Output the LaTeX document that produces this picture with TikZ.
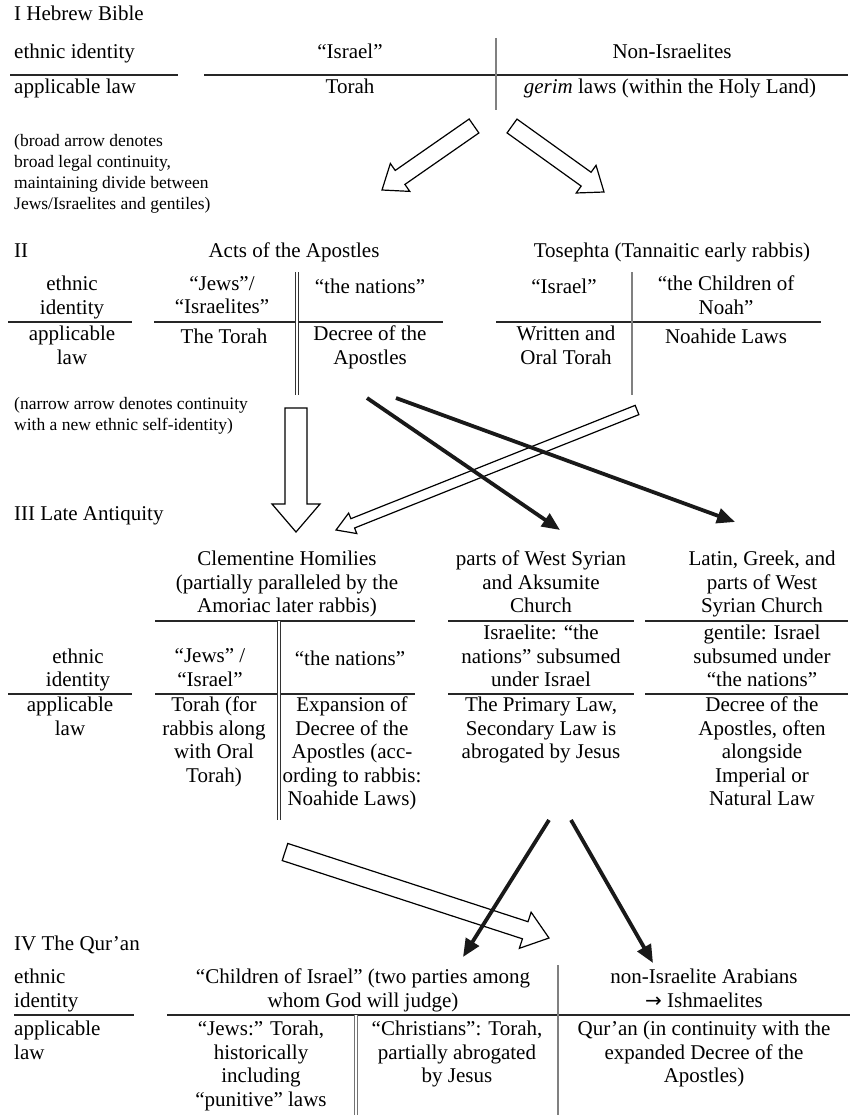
\documentclass[tikz,border=0pt]{standalone}
\usepackage{fontspec}
\setmainfont{Liberation Serif}
\newfontfamily\symfont{DejaVu Sans}
\usetikzlibrary{calc,arrows.meta}
\newcommand\mainsz{\fontsize{21pt}{23.5pt}\selectfont}
\newcommand\notesz{\fontsize{17.5pt}{21pt}\selectfont}
% #1 start, #2 tip, #3 shaft half width, #4 head half width, #5 head length
\newcommand\broadarrow[5]{%
  \coordinate (bahead) at ($(#2)!#5!(#1)$);
  \draw[openarrow] ($(#1)!#3!90:(#2)$) -- ($(bahead)!#3!90:(#2)$) -- ($(bahead)!#4!90:(#2)$) -- (#2)
    -- ($(bahead)!#4!-90:(#2)$) -- ($(bahead)!#3!-90:(#2)$) -- ($(#1)!#3!-90:(#2)$) -- cycle;}
\begin{document}
\begin{tikzpicture}[x=1pt,y=-1pt,
  tx/.style={anchor=north, inner sep=0pt, align=center, yshift=17pt, font=\mainsz,
    execute at begin node={\rule{0pt}{17pt}}},
  txl/.style={tx, anchor=north west, align=left},
  note/.style={txl, font=\notesz},
  hline/.style={line width=1.3pt, draw=black!85},
  gline/.style={line width=2.6pt, draw=black!50},
  dline/.style={double distance=2pt, line width=0.8pt, draw=black!80},
  dgline/.style={double distance=2pt, line width=0.9pt, draw=black!55},
  openarrow/.style={line width=1.2pt, draw=black, fill=white, line join=miter},
  boldarrow/.style={line width=3.8pt, draw=black!90, -{Triangle[length=18pt,width=15pt]}},
]
\fill[white] (0,0) rectangle (852,1115);
\useasboundingbox (0,0) rectangle (852,1115);

% ---------------- I ----------------
\node[txl] (t1) at (14,20) {I Hebrew Bible};
\node[txl] (e1) at (14,58) {ethnic identity};
\node[tx] (i1) at (350,58) {“Israel”};
\node[tx] (n1) at (672,58) {Non-Israelites};
\node[txl] (a1) at (14,93) {applicable law};
\node[tx] (tor1) at (350,93) {Torah};
\node[tx] (g1) at (670,93) {\textit{gerim} laws (within the Holy Land)};
\draw[hline] (10,75) -- (178,75);
\draw[hline] (204,75) -- (848,75);
\draw[gline] (496,38) -- (496,110);

\coordinate (s1a) at (474,126); \coordinate (e1a) at (382,190);
\coordinate (s1b) at (512,126); \coordinate (e1b) at (604,192);
\broadarrow{s1a}{e1a}{8.5pt}{17pt}{22pt}
\broadarrow{s1b}{e1b}{8.5pt}{17pt}{22pt}

\node[note] (nb) at (14,151) {(broad arrow denotes\\broad legal continuity,\\maintaining divide between\\Jews/Israelites and gentiles)};

% ---------------- II ----------------
\node[txl] (t2) at (14,257) {II};
\node[tx] (acts) at (294,257) {Acts of the Apostles};
\node[tx] (tos) at (672,257) {Tosephta (Tannaitic early rabbis)};
\node[tx] (e2) at (72,293) {ethnic\\identity};
\node[tx] (a2) at (72,343) {applicable\\law};
\node[tx] (j2) at (222,293) {“Jews”/\\“Israelites”};
\node[tx] (n2) at (370,293) {“the nations”};
\node[tx] (tt2) at (224,343) {The Torah};
\node[tx] (d2) at (370,343) {Decree of the\\Apostles};
\node[tx] (i2) at (564,293) {“Israel”};
\node[tx] (c2) at (726,293) {“the Children of\\Noah”};
\node[tx] (w2) at (566,343) {Written and\\Oral Torah};
\node[tx] (nl2) at (726,343) {Noahide Laws};
\draw[hline] (8,322) -- (132,322);
\draw[hline] (154,322) -- (443,322);
\draw[hline] (496,322) -- (821,322);
\draw[dline] (297,272) -- (297,395);
\draw[gline] (632,272) -- (632,395);

\node[note] (nn) at (14,414) {(narrow arrow denotes continuity\\with a new ethnic self-identity)};

\coordinate (s2d) at (296,408); \coordinate (e2d) at (296,532);
\coordinate (s2c) at (637,410); \coordinate (e2c) at (336,530);
\coordinate (s2a) at (367,398); \coordinate (e2a) at (560,530);
\coordinate (s2b) at (396,398); \coordinate (e2b) at (735,522);
\broadarrow{s2d}{e2d}{11pt}{24pt}{28pt}
\broadarrow{s2c}{e2c}{5pt}{11pt}{18pt}
\draw[boldarrow] (s2a) -- (e2a);
\draw[boldarrow] (s2b) -- (e2b);

% ---------------- III ----------------
\node[txl] (t3) at (14,520) {III Late Antiquity};
\node[tx] (clem) at (287,568) {Clementine Homilies\\(partially paralleled by the\\Amoriac later rabbis)};
\node[tx] (ws) at (541,568) {parts of West Syrian\\and Aksumite\\Church};
\node[tx] (lat) at (762,568) {Latin, Greek, and\\parts of West\\Syrian Church};
\draw[hline] (155,621) -- (415,621);
\draw[hline] (448,621) -- (634,621);
\draw[hline] (645,621) -- (848,621);
\node[tx] (e3) at (78,665.5) {ethnic\\identity};
\node[tx] (j3) at (210,665.5) {“Jews” /\\“Israel”};
\node[tx] (n3) at (350,665.5) {“the nations”};
\node[tx] (ws2) at (541,642) {Israelite: “the\\nations” subsumed\\under Israel};
\node[tx] (lat2) at (762,642) {gentile: Israel\\subsumed under\\“the nations”};
\draw[hline] (8,694) -- (132,694);
\draw[hline] (155,694) -- (415,694);
\draw[hline] (448,694) -- (634,694);
\draw[hline] (645,694) -- (848,694);
\node[tx] (a3) at (70,714) {applicable\\law};
\node[tx] (tor3) at (214,714) {Torah (for\\rabbis along\\with Oral\\Torah)};
\node[tx] (exp3) at (352,714) {Expansion of\\Decree of the\\Apostles (acc-\\ording to rabbis:\\Noahide Laws)};
\node[tx] (pl3) at (541,714) {The Primary Law,\\Secondary Law is\\abrogated by Jesus};
\node[tx] (dc3) at (762,714) {Decree of the\\Apostles, often\\alongside\\Imperial or\\Natural Law};
\draw[dline] (279,621) -- (279,820);

\coordinate (s3d) at (285,852); \coordinate (e3d) at (549,938);
\coordinate (s3e) at (549,820); \coordinate (e3e) at (463,957);
\coordinate (s3f) at (571,820); \coordinate (e3f) at (653,963);
\broadarrow{s3d}{e3d}{9pt}{19pt}{25pt}
\draw[boldarrow] (s3e) -- (e3e);
\draw[boldarrow] (s3f) -- (e3f);

% ---------------- IV ----------------
\node[txl] (t4) at (14,950) {IV The Qur’an};
\node[txl] (e4) at (14,986) {ethnic\\identity};
\node[tx] (ci4) at (363,986) {“Children of Israel” (two parties among\\whom God will judge)};
\node[tx] (na4) at (704,986) {non-Israelite Arabians\\{\symfont\fontsize{20pt}{20pt}\selectfont\char"2192} Ishmaelites};
\draw[hline] (14,1015) -- (134,1015);
\draw[hline] (167,1015) -- (850,1015);
\node[txl] (a4) at (14,1038) {applicable\\law};
\node[tx] (j4) at (261,1038) {“Jews:” Torah,\\historically\\including\\“punitive” laws};
\node[tx] (c4) at (457,1038) {“Christians”: Torah,\\partially abrogated\\by Jesus};
\node[tx] (q4) at (704,1038) {Qur’an (in continuity with the\\expanded Decree of the\\Apostles)};
\draw[gline] (558,965) -- (558,1115);
\draw[dgline] (356,1015) -- (356,1115);
\end{tikzpicture}
\end{document}
